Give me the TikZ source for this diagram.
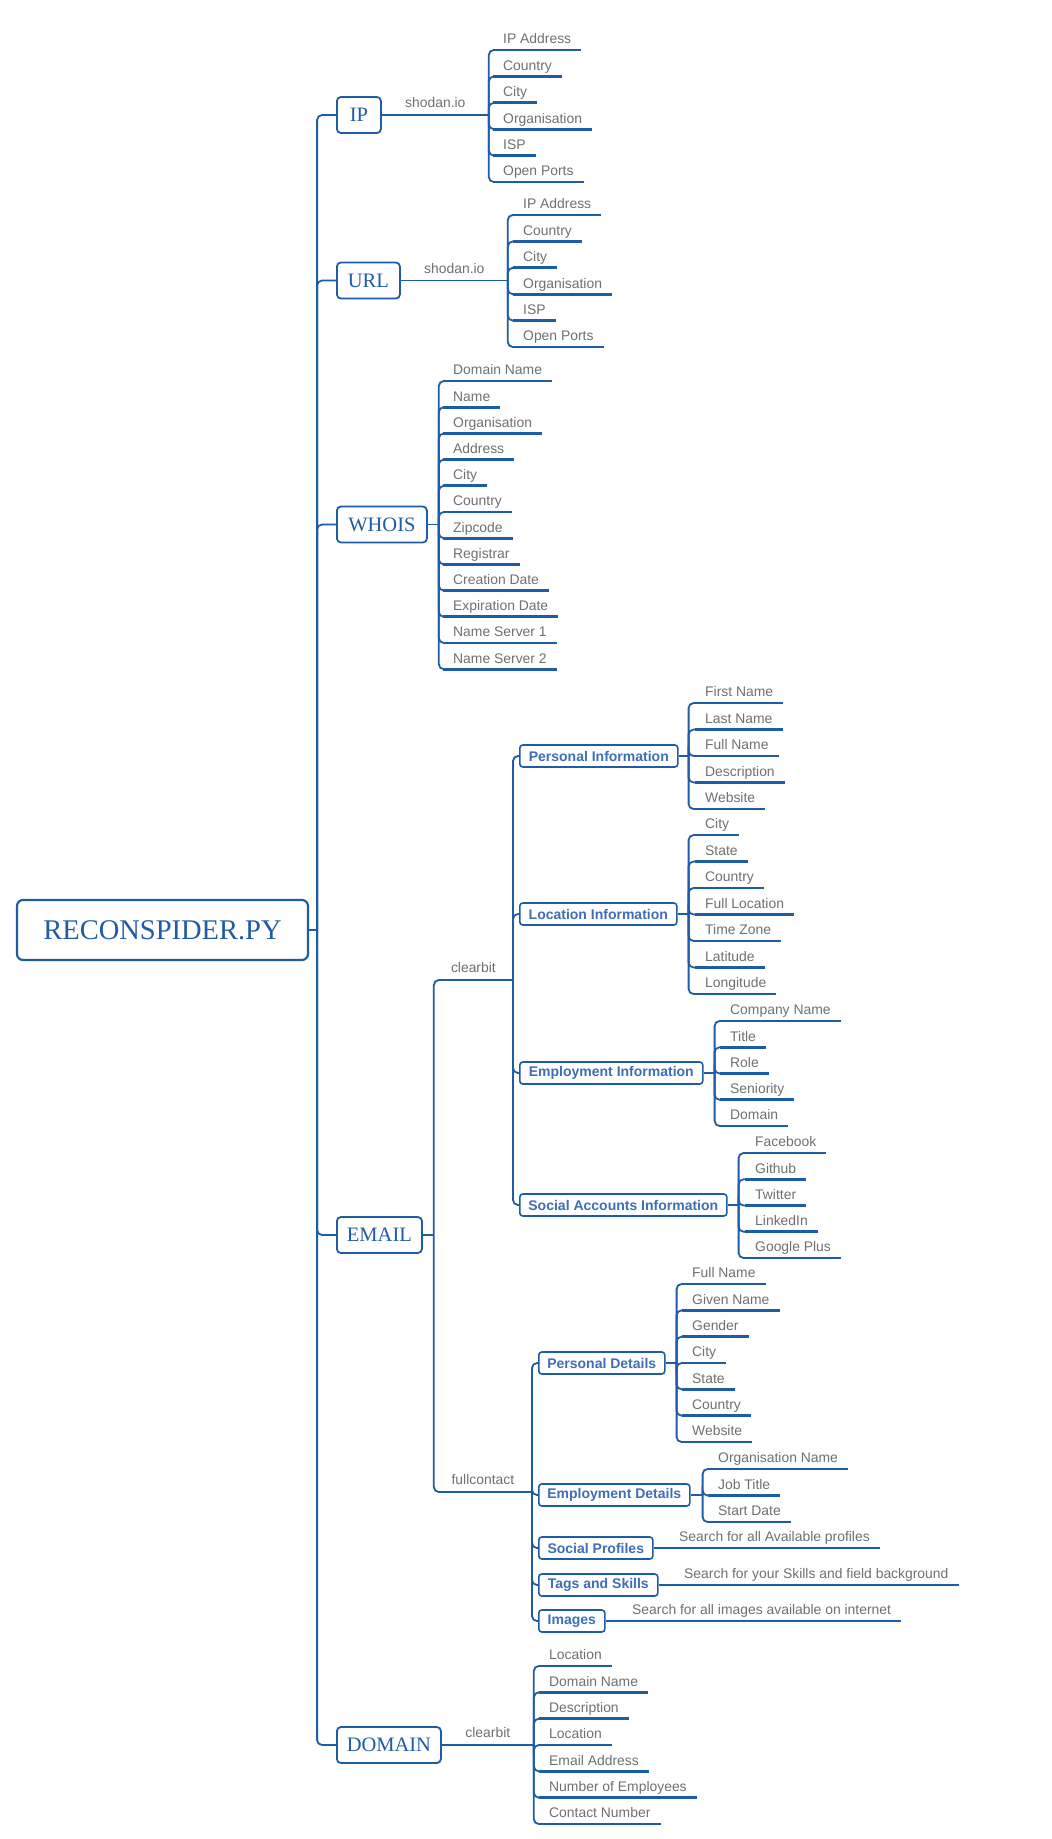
\documentclass[tikz,border=0pt]{standalone}
\usepackage{fontspec}
\setmainfont{Liberation Sans}
\newfontfamily\seriffont{Liberation Serif}
\usetikzlibrary{positioning}
\definecolor{lineblue}{HTML}{1F5CA6}
\definecolor{subblue}{HTML}{3F6EB5}
\definecolor{leafgray}{HTML}{707070}

\begin{document}
\begin{tikzpicture}[x=1pt,y=-1pt,
  link/.style={draw=lineblue,line width=1.8pt,rounded corners=5pt},
  uline/.style={draw=lineblue,line width=2.8pt},
  root node/.style={draw=lineblue,line width=2.2pt,rounded corners=6pt,minimum width=291pt,minimum height=60pt,text=lineblue,font=\seriffont\fontsize{28.5}{30}\selectfont},
  main node/.style={draw=lineblue,line width=1.8pt,rounded corners=4pt,anchor=west,inner xsep=6pt,minimum height=36pt,text=lineblue,font=\seriffont\fontsize{20.5}{22}\selectfont},
  sub node/.style={draw=lineblue,line width=1.6pt,rounded corners=3pt,anchor=west,inner xsep=6pt,minimum height=22pt,text=subblue,font=\bfseries\fontsize{14}{15}\selectfont},
  leaf/.style={anchor=south west,inner xsep=10pt,inner ysep=0pt,text height=10pt,text depth=6pt,text=leafgray,font=\fontsize{13.9}{15}\selectfont},
  srclabel/.style={above=6.5pt,inner sep=0pt,text depth=0pt,text=leafgray,font=\fontsize{13.9}{15}\selectfont}]
  \path[use as bounding box,fill=white] (0,0) rectangle (1052,1839);

  % root and main branches
  \node[root node] (root) at (162.5,930) {RECONSPIDER.PY};
  \node[main node, minimum width=44pt] (ip) at (336,115) {IP};
  \node[main node, minimum width=63pt] (url) at (336,280.5) {URL};
  \node[main node, minimum width=90pt] (whois) at (336,524.5) {WHOIS};
  \node[main node, minimum width=85pt] (email) at (336,1235) {EMAIL};
  \node[main node, minimum width=104pt] (domain) at (336,1745) {DOMAIN};
  \draw[link] (root.east) -- ++(8,0) coordinate (tr);
  \foreach \n in {ip,url,whois,email,domain}
    \draw[link] (tr) |- (\n.west);

  % IP
  \draw[link] (ip.east) -- node[srclabel]{shodan.io} ++(107,0) coordinate (ipb);
  \foreach \t [count=\i] in {IP Address,Country,City,Organisation,ISP,Open Ports}{
    \node[leaf] (ip\i) at (493,{50+26.4*(\i-1)}) {\t};
    \draw[link] (ipb) |- (ip\i.south west);
    \draw[uline] (ip\i.south west) -- (ip\i.south east);
  }

  % URL
  \draw[link] (url.east) -- node[srclabel]{shodan.io} ++(107,0) coordinate (urlb);
  \foreach \t [count=\i] in {IP Address,Country,City,Organisation,ISP,Open Ports}{
    \node[leaf] (url\i) at (513,{215+26.4*(\i-1)}) {\t};
    \draw[link] (urlb) |- (url\i.south west);
    \draw[uline] (url\i.south west) -- (url\i.south east);
  }

  % WHOIS
  \draw[link] (whois.east) -- ++(11,0) coordinate (whoisb);
  \foreach \t [count=\i] in {Domain Name,Name,Organisation,Address,City,Country,Zipcode,Registrar,Creation Date,Expiration Date,Name Server 1,Name Server 2}{
    \node[leaf] (who\i) at (443,{381+26.2*(\i-1)}) {\t};
    \draw[link] (whoisb) |- (who\i.south west);
    \draw[uline] (who\i.south west) -- (who\i.south east);
  }

  % EMAIL
  \draw[link] (email.east) -- ++(11,0) coordinate (eb);
  \coordinate (cb) at (513,980);
  \coordinate (fc) at (532,1492);
  \draw[link] (eb) |- node[srclabel, pos=0.75]{clearbit} (cb);
  \draw[link] (eb) |- node[srclabel, pos=0.75]{fullcontact} (fc);

  % EMAIL / clearbit
  \node[sub node, minimum width=158pt] (pinfo) at (519,756) {Personal Information};
  \node[sub node, minimum width=157pt] (linfo) at (519,914) {Location Information};
  \node[sub node, minimum width=183pt] (einfo) at (519,1073) {Employment Information};
  \node[sub node, minimum width=207pt] (sinfo) at (519,1205) {Social Accounts Information};
  \foreach \n in {pinfo,linfo,einfo,sinfo}
    \draw[link] (cb) |- (\n.west);

  \draw[link] (pinfo.east) -- ++(10,0) coordinate (pib);
  \foreach \t [count=\i] in {First Name,Last Name,Full Name,Description,Website}{
    \node[leaf] (pi\i) at (695,{703+26.5*(\i-1)}) {\t};
    \draw[link] (pib) |- (pi\i.south west);
    \draw[uline] (pi\i.south west) -- (pi\i.south east);
  }

  \draw[link] (linfo.east) -- ++(11,0) coordinate (lib);
  \foreach \t [count=\i] in {City,State,Country,Full Location,Time Zone,Latitude,Longitude}{
    \node[leaf] (li\i) at (695,{835+26.5*(\i-1)}) {\t};
    \draw[link] (lib) |- (li\i.south west);
    \draw[uline] (li\i.south west) -- (li\i.south east);
  }

  \draw[link] (einfo.east) -- ++(11,0) coordinate (eib);
  \foreach \t [count=\i] in {Company Name,Title,Role,Seniority,Domain}{
    \node[leaf] (ei\i) at (720,{1021+26.25*(\i-1)}) {\t};
    \draw[link] (eib) |- (ei\i.south west);
    \draw[uline] (ei\i.south west) -- (ei\i.south east);
  }

  \draw[link] (sinfo.east) -- ++(11,0) coordinate (sib);
  \foreach \t [count=\i] in {Facebook,Github,Twitter,LinkedIn,Google Plus}{
    \node[leaf] (si\i) at (745,{1153+26.25*(\i-1)}) {\t};
    \draw[link] (sib) |- (si\i.south west);
    \draw[uline] (si\i.south west) -- (si\i.south east);
  }

  % EMAIL / fullcontact
  \node[sub node, minimum width=126pt] (pdet) at (538,1363) {Personal Details};
  \node[sub node, minimum width=151pt] (edet) at (538,1495) {Employment Details};
  \node[sub node, minimum width=114pt] (sprof) at (538,1548) {Social Profiles};
  \node[sub node, minimum width=119pt] (tags) at (538,1585) {Tags and Skills};
  \node[sub node, minimum width=66pt] (imgs) at (538,1621) {Images};
  \foreach \n in {pdet,edet,sprof,tags,imgs}
    \draw[link] (fc) |- (\n.west);

  \draw[link] (pdet.east) -- ++(11,0) coordinate (pdb);
  \foreach \t [count=\i] in {Full Name,Given Name,Gender,City,State,Country,Website}{
    \node[leaf] (pd\i) at (682,{1284+26.33*(\i-1)}) {\t};
    \draw[link] (pdb) |- (pd\i.south west);
    \draw[uline] (pd\i.south west) -- (pd\i.south east);
  }

  \draw[link] (edet.east) -- ++(12,0) coordinate (edb);
  \foreach \t [count=\i] in {Organisation Name,Job Title,Start Date}{
    \node[leaf] (ed\i) at (708,{1469+26.5*(\i-1)}) {\t};
    \draw[link] (edb) |- (ed\i.south west);
    \draw[uline] (ed\i.south west) -- (ed\i.south east);
  }

  \node[leaf] (sp1) at (669,1548) {Search for all Available profiles};
  \node[leaf] (tg1) at (674,1585) {Search for your Skills and field background};
  \node[leaf] (im1) at (622,1621) {Search for all images available on internet};
  \draw[link] (sprof.east) -- (sp1.south west);
  \draw[link] (tags.east) -- (tg1.south west);
  \draw[link] (imgs.east) -- (im1.south west);
  \foreach \n in {sp1,tg1,im1}
    \draw[uline] (\n.south west) -- (\n.south east);

  % DOMAIN
  \draw[link] (domain.east) -- node[srclabel]{clearbit} ++(92,0) coordinate (db);
  \foreach \t [count=\i] in {Location,Domain Name,Description,Location,Email Address,Number of Employees,Contact Number}{
    \node[leaf] (dm\i) at (539,{1666+26.33*(\i-1)}) {\t};
    \draw[link] (db) |- (dm\i.south west);
    \draw[uline] (dm\i.south west) -- (dm\i.south east);
  }
\end{tikzpicture}
\end{document}
